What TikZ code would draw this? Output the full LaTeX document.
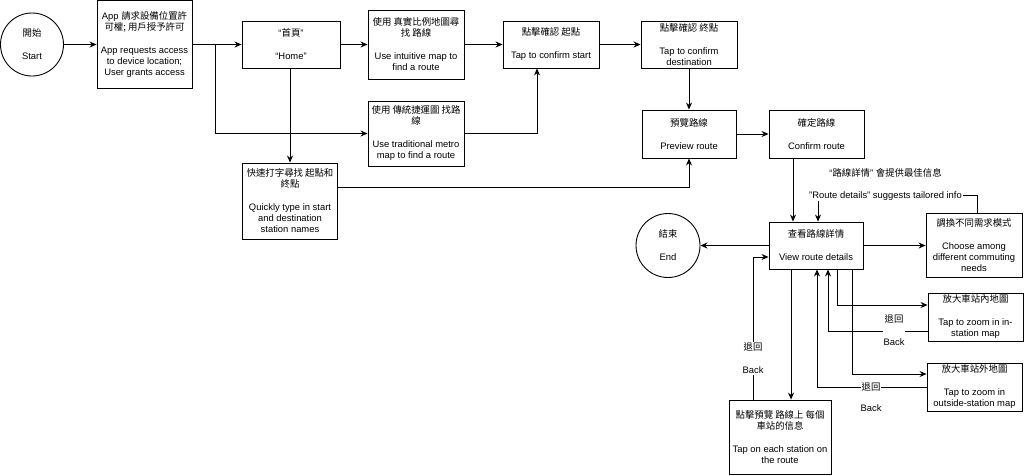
\documentclass[tikz,border=0pt]{standalone}
\usepackage{fontspec}
\setmainfont{Liberation Sans}
\newfontfamily\cjk{Noto Sans CJK TC}
\usetikzlibrary{arrows.meta}
\tikzset{
  txt/.style={font=\fontsize{9.4}{11}\selectfont},
  box/.style={txt, draw, line width=0.9pt, align=center, inner sep=1pt},
  circ/.style={txt, draw, circle, line width=0.9pt, minimum size=63pt, inner sep=0pt, align=center},
  lbl/.style={txt, align=center, inner sep=1pt},
  arr/.style={line width=0.9pt, -{Stealth[length=7pt,width=6pt]}},
}
\begin{document}
\begin{tikzpicture}[x=1pt, y=-1pt]
\useasboundingbox (0,0) rectangle (1024,475);
% nodes
\node[circ] (start) at (32,44.5) {{\cjk 開始}\\[12pt]Start};
\node[box, minimum width=95pt, minimum height=88pt] (app) at (144.5,44.5)
  {App {\cjk 請求設備位置許}\\{\cjk 可權; 用戶授予許可}\\[12pt]App requests access\\to device location;\\User grants access};
\node[box, minimum width=98pt, minimum height=47pt] (home) at (291,44.5)
  {“{\cjk 首頁}”\\[12pt]“Home”};
\node[box, minimum width=96pt, minimum height=69pt] (intu) at (416,44.5)
  {{\cjk 使用 真實比例地圖尋}\\{\cjk 找 路線}\\[12pt]Use intuitive map to\\find a route};
\node[box, minimum width=96pt, minimum height=47pt] (tstart) at (551,44.5)
  {{\cjk 點擊確認 起點}\\[12pt]Tap to confirm start};
\node[box, minimum width=96pt, minimum height=47pt] (tdest) at (689,44.5)
  {{\cjk 點擊確認 終點}\\[12pt]Tap to confirm\\destination};
\node[box, minimum width=96pt, minimum height=65pt] (trad) at (416,133.5)
  {{\cjk 使用 傳統捷運圖 找路}\\{\cjk 線}\\[12pt]Use traditional metro\\map to find a route};
\node[box, minimum width=95pt, minimum height=76pt] (quick) at (290,201)
  {{\cjk 快速打字尋找 起點和}\\{\cjk 終點}\\[12pt]Quickly type in start\\and destination\\station names};
\node[box, minimum width=94pt, minimum height=48pt] (prev) at (689,134)
  {{\cjk 預覽路線}\\[12pt]Preview route};
\node[box, minimum width=95pt, minimum height=48pt] (conf) at (816.5,134)
  {{\cjk 確定路線}\\[12pt]Confirm route};
\node[box, minimum width=94pt, minimum height=47pt] (view) at (816,245.5)
  {{\cjk 查看路線詳情}\\[12pt]View route details};
\node[circ, minimum size=64pt] (end) at (668,245.5) {{\cjk 結束}\\[12pt]End};
\node[box, minimum width=96pt, minimum height=64pt] (choose) at (974,245.5)
  {{\cjk 調換不同需求模式}\\[12pt]Choose among\\different commuting\\needs};
\node[box, minimum width=102pt, minimum height=74pt] (station) at (780,437)
  {{\cjk 點擊預覽 路線上 每個}\\{\cjk 車站的信息}\\[12pt]Tap on each station on\\the route};
\node[box, minimum width=95pt, minimum height=48pt] (instat) at (975.5,317)
  {{\cjk 放大車站內地圖}\\[12pt]Tap to zoom in in-\\station map};
\node[box, minimum width=95pt, minimum height=48pt] (outstat) at (974.5,387)
  {{\cjk 放大車站外地圖}\\[12pt]Tap to zoom in\\outside-station map};
% connectors
\draw[arr] (start) -- (app);
\draw[arr] (app) -- (home);
\draw[arr] (app.east) -- ++(23,0) |- (trad.west);
\draw[arr] (home) -- (intu);
\draw[arr] (quick.north |- home.south) -- (quick.north);
\draw[arr] (intu) -- (tstart);
\draw[arr] (trad.east) -| ([xshift=-14pt]tstart.south);
\draw[arr] (tstart) -- (tdest);
\draw[arr] (tdest) -- (prev);
\draw[arr] ([yshift=14pt]quick.east) -| (prev.south);
\draw[arr] (prev) -- (conf);
\draw[arr] ([xshift=-23.5pt]conf.south) -- ([xshift=-23.5pt]conf.south |- view.north);
\coordinate (rd) at (818,195);
\draw[arr] ([xshift=3pt]choose.north) |- (rd) -- (rd |- view.north);
\draw[arr] (view) -- (end);
\draw[arr] (view) -- (choose);
\draw[arr] ([xshift=-25pt]view.south) -- ([xshift=-25pt]view.south |- station.north);
\draw[arr] ([xshift=-27pt]station.north) |- ([yshift=-11.5pt]view.west);
\draw[arr] ([xshift=21pt]view.south) |- ([yshift=12pt]instat.west);
\draw[arr] ([yshift=-14pt]instat.west) -| ([xshift=12pt]view.south);
\draw[arr] ([xshift=36pt]view.south) |- ([yshift=13pt]outstat.west);
\draw[arr] (outstat.west) -| ([xshift=1pt]view.south);
% labels
\node[lbl, fill=white] (rdlab) at (885.5,184)
  {“{\cjk 路線詳情}” {\cjk 會提供最佳信息}\\[11pt]"Route details" suggests tailored info};
\node[lbl, fill=white] (bk1) at (753,358.5) {{\cjk 退回}\\[12pt]Back};
\node[lbl, fill=white] (bk2) at (894,330.5) {{\cjk 退回}\\[12pt]Back};
\node[lbl, fill=white] (bk3) at (871,387) {\cjk 退回};
\node[lbl] (bk3b) at (871,408) {Back};
\end{tikzpicture}
\end{document}
